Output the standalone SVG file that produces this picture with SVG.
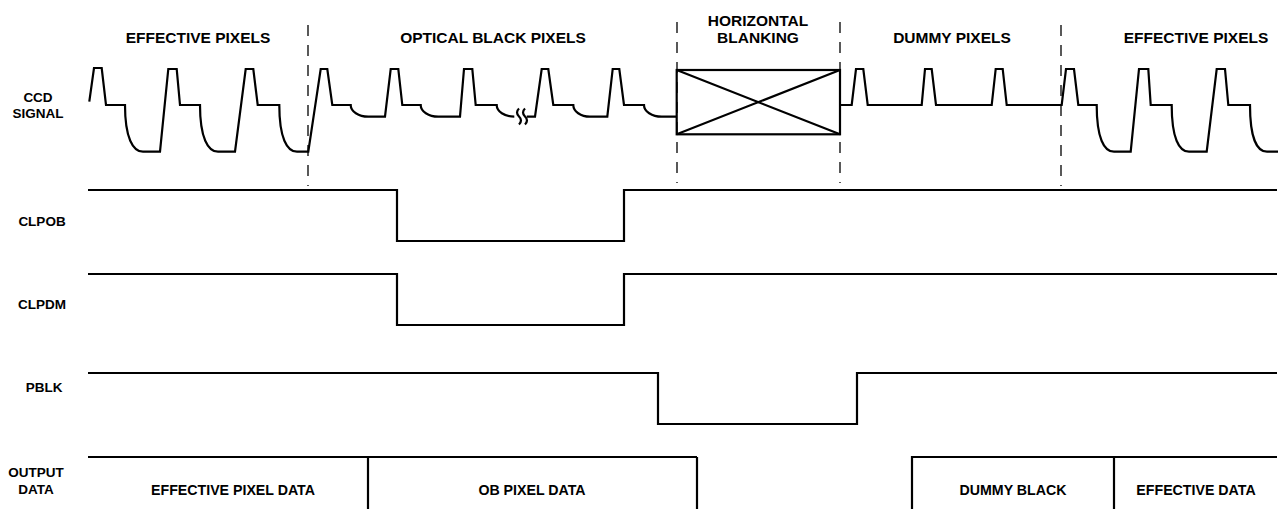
<svg xmlns="http://www.w3.org/2000/svg" width="1284" height="509" viewBox="0 0 1284 509">
<style>
.w{fill:none;stroke:#000;stroke-width:2.2;stroke-linejoin:miter}
.d{fill:none;stroke:#000;stroke-width:1.3;stroke-dasharray:11 9}
.t{font-family:"Liberation Sans",Arial,sans-serif;font-weight:bold;font-size:15.5px;fill:#000;text-anchor:middle}
.l{font-family:"Liberation Sans",Arial,sans-serif;font-weight:bold;font-size:13.5px;fill:#000;text-anchor:middle}
.o{font-family:"Liberation Sans",Arial,sans-serif;font-weight:bold;font-size:14.2px;fill:#000;text-anchor:middle}
</style>
<rect width="1284" height="509" fill="#fff"/>
<g id="region-labels">
<text class="t" x="198" y="43">EFFECTIVE PIXELS</text>
<text class="t" x="493" y="43">OPTICAL BLACK PIXELS</text>
<text class="t" x="758" y="26">HORIZONTAL</text>
<text class="t" x="758" y="43">BLANKING</text>
<text class="t" x="952" y="43">DUMMY PIXELS</text>
<text class="t" x="1196" y="43">EFFECTIVE PIXELS</text>
</g>
<g id="signal-labels">
<text class="l" x="38" y="102">CCD</text>
<text class="l" x="38" y="118">SIGNAL</text>
<text class="l" x="42" y="226">CLPOB</text>
<text class="l" x="42" y="309">CLPDM</text>
<text class="l" x="44" y="392">PBLK</text>
<text class="l" x="36" y="477">OUTPUT</text>
<text class="l" x="36" y="494">DATA</text>
</g>
<g id="connectors">
<line class="d" x1="308" y1="25" x2="308" y2="186"/>
<line class="d" x1="677" y1="22" x2="677" y2="183"/>
<line class="d" x1="840" y1="22" x2="840" y2="183"/>
<line class="d" x1="1061" y1="25" x2="1061" y2="186"/>
</g>
<g id="ccd-signal">
<path class="w" d="M 89.3 101.7 L 94 68 L 101.7 68 L 106 105 L 125 105 C 125 138 133 151.7 143 151.7 L 160 151.7 L 168.3 69 L 176.7 69 L 180 105 L 200 105 C 200 138 208 151.7 218 151.7 L 235 151.7 L 245.7 69 L 253.3 69 L 257.7 105 L 279.3 105 C 279.3 138 287 151.7 297 151.7 L 308.3 151.7 L 320.7 69 L 327.3 69 L 332.3 105 L 350.7 105 A 17.6 11.7 0 0 0 368.3 116.7 L 385 116.7 L 390.7 69 L 398.3 69 L 402.3 105 L 420.7 105 A 17.6 11.7 0 0 0 438.3 116.7 L 460 116.7 L 464 69 L 472.3 69 L 475.7 105 L 496.7 105 A 17.6 11.7 0 0 0 514.3 116.7"/>
<path class="w" d="M 519 108.5 q -4 4 0 8 q 4 4 0 8 M 525 108.5 q -4 4 0 8 q 4 4 0 8" stroke-width="1.8"/>
<path class="w" d="M 526.7 116.7 L 535 116.7 L 541.7 69 L 548.3 69 L 553.3 105 L 573.3 105 A 16.7 11.7 0 0 0 590 116.7 L 607.3 116.7 L 612.7 69 L 619.3 69 L 624 105 L 644 105 A 17.7 11.7 0 0 0 661.7 116.7 L 676.7 116.7"/>
<rect class="w" x="676.7" y="70" width="163.3" height="64.3"/>
<path class="w" d="M 676.7 70 L 840 134.3 M 676.7 134.3 L 840 70"/>
<path class="w" d="M 840 105 L 851.7 105 L 856 69 L 863.3 69 L 867.7 105 L 921.7 105 L 925 69 L 931.7 69 L 936 105 L 991.7 105 L 995.7 69 L 1002.7 69 L 1006.7 105 L 1061.7 105 L 1066 69 L 1074 69 L 1078.3 105 L 1096.7 105 C 1096.7 138 1104 151.7 1114 151.7 L 1130.7 151.7 L 1139 69 L 1148.3 69 L 1150.7 105 L 1171.7 105 C 1171.7 138 1179 151.7 1189 151.7 L 1206.7 151.7 L 1216.7 69 L 1225 69 L 1228.3 105 L 1250 105 C 1250 138 1257 151.7 1267 151.7 L 1278 151.7"/>
</g>
<g id="clpob">
<path class="w" d="M 88 190 L 397 190 L 397 241 L 624 241 L 624 190 L 1277 190"/>
</g>
<g id="clpdm">
<path class="w" d="M 88 274 L 397 274 L 397 325 L 624 325 L 624 274 L 1277 274"/>
</g>
<g id="pblk">
<path class="w" d="M 88 373 L 658 373 L 658 424 L 857 424 L 857 373 L 1277 373"/>
</g>
<g id="output-data">
<path class="w" d="M 88 457 L 697 457 M 368 457 L 368 509 M 697 457 L 697 509 M 912 509 L 912 457 L 1277 457 M 1114 457 L 1114 509"/>
<text class="o" x="233" y="495">EFFECTIVE PIXEL DATA</text>
<text class="o" x="532" y="495">OB PIXEL DATA</text>
<text class="o" x="1013" y="495">DUMMY BLACK</text>
<text class="o" x="1196" y="495">EFFECTIVE DATA</text>
</g>
</svg>
